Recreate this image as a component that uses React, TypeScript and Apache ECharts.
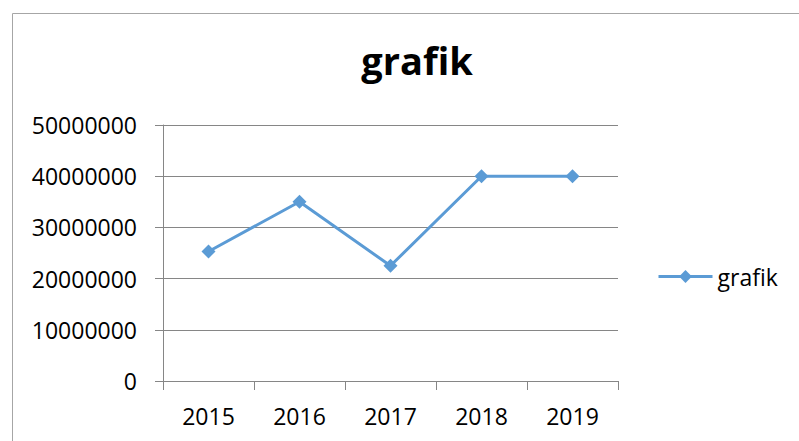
import React, { useEffect, useRef } from "react";
import * as echarts from "echarts";

const categories = ["2015", "2016", "2017", "2018", "2019"];
const seriesName = "grafik";
const values = [25300000, 35000000, 22500000, 40000000, 40000000];
const yMin = 0;
const yMax = 50000000;
const yInterval = 10000000;

const FONT = "'Open Sans', 'Liberation Sans', sans-serif";

export default function App() {
  const ref = useRef<HTMLDivElement>(null);
  useEffect(() => {
    if (!ref.current) return;
    const chart = echarts.init(ref.current, null, { renderer: "svg" });
    chart.setOption({
      animation: false,
      backgroundColor: "#ffffff",
      title: {
        text: "grafik",
        left: 412,
        textAlign: "center",
        top: 36,
        textStyle: { fontFamily: FONT, fontWeight: "bold", fontSize: 38, color: "#000" },
      },
      graphic: [
        {
          type: "rect",
          shape: { x: 12.5, y: 13.5, width: 900, height: 600 },
          style: { fill: "none", stroke: "#a6a6a6", lineWidth: 1 },
          silent: true,
        },
      ],
      legend: {
        data: [seriesName],
        left: 652,
        top: 260,
        itemWidth: 54,
        itemHeight: 16,
        lineStyle: { width: 3 },
        textStyle: { fontFamily: FONT, fontSize: 23, color: "#000" },
      },
      grid: { left: 163, right: 181, top: 125, bottom: 60, containLabel: false },
      xAxis: {
        type: "category",
        data: categories,
        boundaryGap: true,
        axisLine: { show: true, lineStyle: { color: "#868686", width: 1 } },
        axisTick: { show: true, length: 9, lineStyle: { color: "#868686" } },
        axisLabel: { margin: 23, fontFamily: FONT, fontSize: 23, color: "#000" },
        splitLine: { show: false },
      },
      yAxis: {
        type: "value",
        min: yMin,
        max: yMax,
        interval: yInterval,
        axisLine: { show: true, lineStyle: { color: "#868686", width: 1 } },
        axisTick: { show: true, length: 8, lineStyle: { color: "#868686" } },
        axisLabel: {
          margin: 26,
          fontFamily: FONT,
          fontSize: 23,
          color: "#000",
          formatter: (v: number) => String(v),
        },
        splitLine: { show: true, lineStyle: { color: "#868686", width: 1 } },
      },
      series: [
        {
          name: seriesName,
          type: "line",
          data: values,
          symbol: "diamond",
          symbolSize: 14,
          itemStyle: { color: "#5b9bd5" },
          lineStyle: { color: "#5b9bd5", width: 3 },
        },
      ],
    });
    return () => chart.dispose();
  }, []);
  return (
    <div
      ref={ref}
      style={{ position: "fixed", left: 0, top: 0, width: 799, height: 441 }}
    />
  );
}
